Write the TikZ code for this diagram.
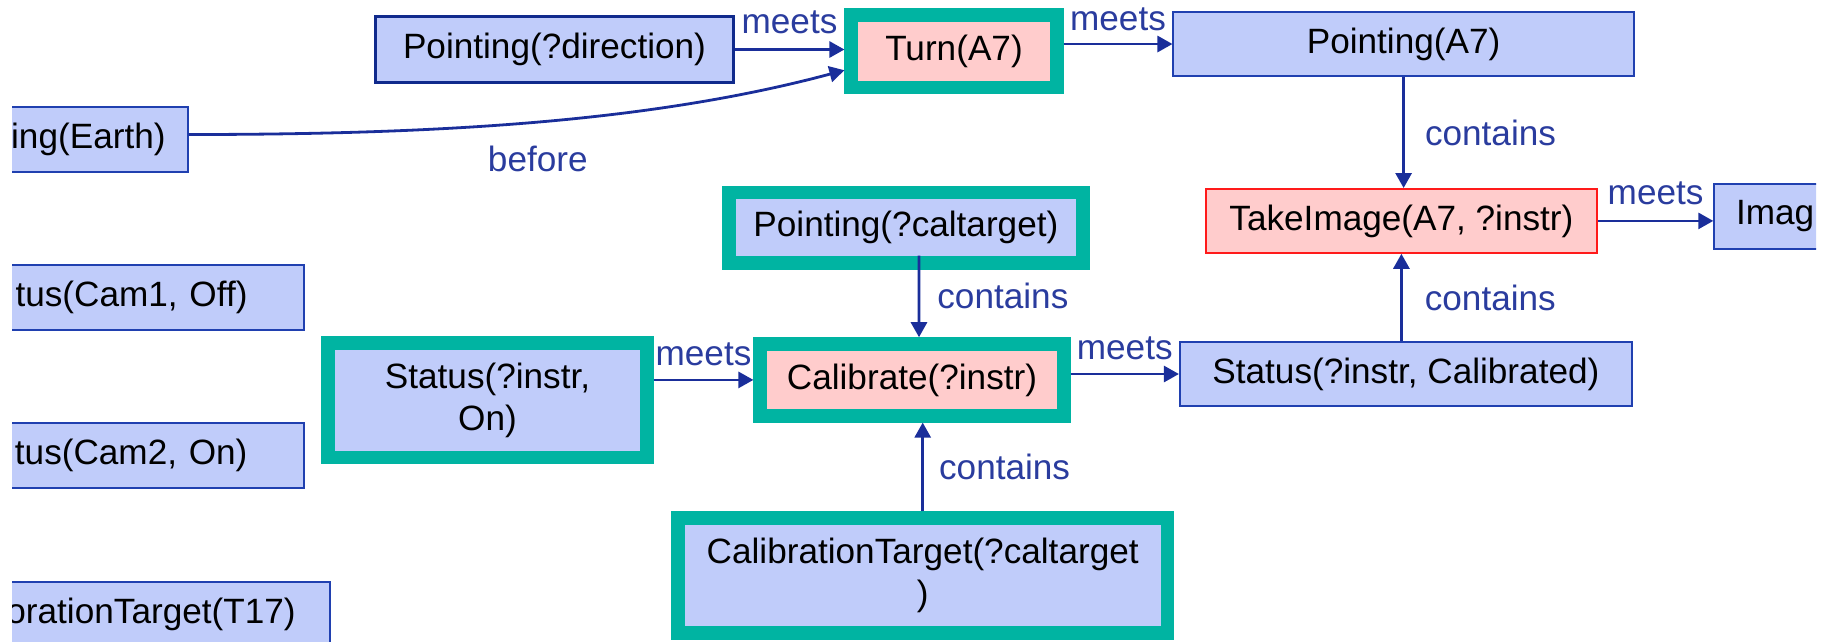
\documentclass[tikz,border=0pt]{standalone}
\usepackage{fontspec}
\setmainfont{Liberation Sans}
\usetikzlibrary{arrows.meta}
\definecolor{evfill}{HTML}{C0CCFA}
\definecolor{evline}{HTML}{2040B0}
\definecolor{dirline}{HTML}{102A8C}
\definecolor{actfill}{HTML}{FFCCCC}
\definecolor{actline}{HTML}{FF1A1A}
\definecolor{selteal}{HTML}{00B4A2}
\definecolor{relblue}{HTML}{1A2E9A}
\definecolor{lblblue}{HTML}{2A3C9E}
\tikzset{ev box/.style={draw=evline,line width=0.02cm,fill=evfill,inner sep=0pt,align=center}}
\tikzset{act box/.style={draw=actline,line width=0.02cm,fill=actfill,inner sep=0pt,align=center}}
\tikzset{sel box/.style={draw=selteal,line width=0.135cm,fill=#1,inner sep=0pt,align=center}}
\tikzset{cut left/.style={ev box,anchor=east,text width=3cm,align=right,
    inner xsep=#1,minimum height=0.65cm}}
\tikzset{rel/.style={draw=relblue,line width=0.028cm,-{Triangle[length=0.15cm,width=0.16cm]}}}
\tikzset{rel label/.style={text=lblblue,inner sep=0pt}}
\begin{document}
\begin{tikzpicture}[x=0.01cm,y=-0.01cm,font=\fontsize{10}{12}\selectfont]
  \useasboundingbox (0,0) rectangle (1830,641);
  \clip (12,0) rectangle (1816,641);
  % left column, cut by the slide edge
  \node[cut left=0.22cm] (earth) at (188.6,139.5) {ing(Earth)};
  \node[cut left=0.56cm] (cam1) at (304.5,297.5) {tus(Cam1, Off)};
  \node[cut left=0.56cm] (cam2) at (304.5,455.2) {tus(Cam2, On)};
  \node[cut left=0.34cm] (t17) at (330.7,614.5) {orationTarget(T17)};
  % top row
  \node[ev box,draw=dirline,line width=0.03cm,minimum width=3.57cm,minimum height=0.65cm]
    (dir) at (554.5,49.5) {Pointing(?direction)};
  \node[sel box=actfill,minimum width=2.055cm,minimum height=0.725cm] (turn) at (954,51.2) {Turn(A7)};
  \node[ev box,minimum width=4.6cm,minimum height=0.64cm] (pa7) at (1403.6,44) {Pointing(A7)};
  \node[act box,minimum width=3.907cm,minimum height=0.637cm] (take) at (1401.4,220.9)
    {TakeImage(A7, ?instr)};
  \node[ev box,anchor=west,text width=2cm,align=left,inner xsep=0.217cm,minimum height=0.65cm]
    (image) at (1713.3,216.5) {Imag};
  % calibration
  \node[sel box=evfill,minimum width=3.538cm,minimum height=0.702cm] (caltgt) at (905.9,227.7)
    {Pointing(?caltarget)};
  \node[sel box=actfill,minimum width=3.035cm,minimum height=0.718cm] (calib) at (912,379.9)
    {Calibrate(?instr)};
  \node[sel box=evfill,minimum width=3.185cm,minimum height=1.142cm] (son) at (487.5,400.3)
    {Status(?instr,\\On)};
  \node[ev box,minimum width=4.517cm,minimum height=0.634cm] (scal) at (1405.9,374)
    {Status(?instr, Calibrated)};
  \node[sel box=evfill,minimum width=4.895cm,minimum height=1.145cm] (ctgt) at (922.7,575.5)
    {CalibrationTarget(?caltarget\\)};
  % relations
  \draw[rel] (dir.east) -- (dir.east -| turn.west)
    node[rel label,midway,above=0.14cm] {meets};
  \draw[rel] (pa7.west -| turn.east) -- (pa7.west)
    node[rel label,midway,above=0.12cm] {meets};
  \draw[rel] ([yshift=0.05cm]earth.east) .. controls +(0:2.5cm) and +(195:2cm) .. ([yshift=-0.19cm]turn.west)
    node[rel label,pos=0.5,below=0.23cm] {before};
  \draw[rel] (pa7.south) -- (pa7.south |- take.north)
    node[rel label,midway,right=0.2cm] {contains};
  \draw[rel] (take.east) -- (take.east -| image.west)
    node[rel label,midway,above=0.15cm] {meets};
  \draw[rel] (take.south |- scal.north) -- (take.south)
    node[rel label,midway,right=0.22cm] {contains};
  \draw[rel] ([xshift=0.13cm,yshift=0.14cm]caltgt.south) -- ([xshift=0.07cm]calib.north)
    node[rel label,midway,right=0.17cm] {contains};
  \draw[rel] (son.east |- calib.west) -- (calib.west)
    node[rel label,midway,above=0.13cm] {meets};
  \draw[rel] (scal.west -| calib.east) -- (scal.west)
    node[rel label,midway,above=0.13cm] {meets};
  \draw[rel] (ctgt.north) -- (ctgt.north |- calib.south)
    node[rel label,midway,right=0.15cm] {contains};
\end{tikzpicture}
\end{document}
